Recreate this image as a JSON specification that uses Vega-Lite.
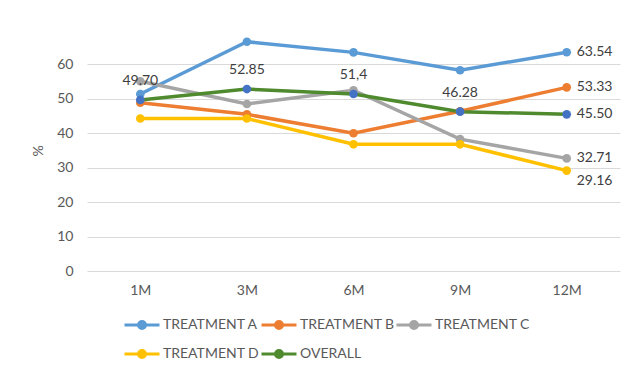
{
  "$schema": "https://vega.github.io/schema/vega-lite/v6.json",
  "width": 533,
  "height": 241,
  "autosize": "none",
  "padding": {"left": 87, "top": 30, "right": 15, "bottom": 96},
  "background": "white",
  "config": {
    "view": {"stroke": null},
    "font": "Lato",
    "axis": {"labelFont": "Lato", "titleFont": "Lato", "labelColor": "#595959", "titleColor": "#595959", "labelFontSize": 14, "titleFontSize": 14, "titleFontWeight": "normal"},
    "legend": {"labelFont": "Lato", "labelColor": "#595959", "labelFontSize": 14}
  },
  "data": {
    "values": [
      {"month": "1M", "series": "TREATMENT A", "value": 51.4, "label": ""},
      {"month": "3M", "series": "TREATMENT A", "value": 66.6, "label": ""},
      {"month": "6M", "series": "TREATMENT A", "value": 63.5, "label": ""},
      {"month": "9M", "series": "TREATMENT A", "value": 58.3, "label": ""},
      {"month": "12M", "series": "TREATMENT A", "value": 63.54, "label": "63.54"},
      {"month": "1M", "series": "TREATMENT B", "value": 48.9, "label": ""},
      {"month": "3M", "series": "TREATMENT B", "value": 45.5, "label": ""},
      {"month": "6M", "series": "TREATMENT B", "value": 40.0, "label": ""},
      {"month": "9M", "series": "TREATMENT B", "value": 46.4, "label": ""},
      {"month": "12M", "series": "TREATMENT B", "value": 53.33, "label": "53.33"},
      {"month": "1M", "series": "TREATMENT C", "value": 55.1, "label": ""},
      {"month": "3M", "series": "TREATMENT C", "value": 48.5, "label": ""},
      {"month": "6M", "series": "TREATMENT C", "value": 52.5, "label": ""},
      {"month": "9M", "series": "TREATMENT C", "value": 38.3, "label": ""},
      {"month": "12M", "series": "TREATMENT C", "value": 32.71, "label": "32.71"},
      {"month": "1M", "series": "TREATMENT D", "value": 44.3, "label": ""},
      {"month": "3M", "series": "TREATMENT D", "value": 44.3, "label": ""},
      {"month": "6M", "series": "TREATMENT D", "value": 36.8, "label": ""},
      {"month": "9M", "series": "TREATMENT D", "value": 36.8, "label": ""},
      {"month": "12M", "series": "TREATMENT D", "value": 29.16, "label": "29.16"},
      {"month": "1M", "series": "OVERALL", "value": 49.7, "label": "49.70"},
      {"month": "3M", "series": "OVERALL", "value": 52.85, "label": "52.85"},
      {"month": "6M", "series": "OVERALL", "value": 51.4, "label": "51,4"},
      {"month": "9M", "series": "OVERALL", "value": 46.28, "label": "46.28"},
      {"month": "12M", "series": "OVERALL", "value": 45.5, "label": "45.50"}
    ]
  },
  "encoding": {
    "x": {
      "field": "month", "type": "ordinal", "sort": ["1M", "3M", "6M", "9M", "12M"],
      "scale": {"type": "point", "padding": 0.5},
      "axis": {"title": null, "labelAngle": 0, "ticks": false, "domain": false, "labelPadding": 12, "grid": false}
    },
    "y": {
      "field": "value", "type": "quantitative",
      "scale": {"domain": [0, 70], "nice": false},
      "axis": {"title": "%", "values": [0, 10, 20, 30, 40, 50, 60], "ticks": false, "domain": false, "labelPadding": 14, "gridColor": "#d9d9d9", "gridWidth": 1, "titlePadding": 11}
    }
  },
  "layer": [
    {
      "mark": {"type": "line", "strokeWidth": 3.5},
      "encoding": {
        "color": {
          "field": "series", "type": "nominal",
          "scale": {"domain": ["TREATMENT A", "TREATMENT B", "TREATMENT C", "TREATMENT D", "OVERALL"], "range": ["#5B9BD5", "#ED7D31", "#A5A5A5", "#FFC000", "#4F8A2F"]},
          "legend": {
            "title": null, "orient": "none", "legendX": 36, "legendY": 276, "direction": "horizontal", "columns": 3, "gridAlign": "none",
            "symbolType": "M-1,0H1M0.2,0A0.2,0.2,0,1,1,-0.2,0A0.2,0.2,0,1,1,0.2,0Z",
            "symbolSize": 1225, "symbolStrokeWidth": 3, "labelOffset": 2, "columnPadding": -5, "rowPadding": 0, "padding": 0
          }
        }
      }
    },
    {
      "mark": {"type": "point", "filled": true, "size": 75, "opacity": 1},
      "encoding": {
        "color": {
          "field": "series", "type": "nominal",
          "condition": {"test": "datum.series === 'OVERALL'", "value": "#4472C4"}
        }
      }
    },
    {
      "transform": [{"filter": "datum.series === 'OVERALL' && datum.month !== '12M'"}],
      "mark": {"type": "text", "dy": -19, "fontSize": 14, "color": "#404040", "font": "Lato"},
      "encoding": {"text": {"field": "label"}}
    },
    {
      "transform": [{"filter": "datum.month === '12M' && datum.series !== 'TREATMENT D'"}],
      "mark": {"type": "text", "dx": 10, "align": "left", "fontSize": 14, "color": "#404040", "font": "Lato"},
      "encoding": {"text": {"field": "label"}}
    },
    {
      "transform": [{"filter": "datum.month === '12M' && datum.series === 'TREATMENT D'"}],
      "mark": {"type": "text", "dx": 10, "dy": 10, "align": "left", "fontSize": 14, "color": "#404040", "font": "Lato"},
      "encoding": {"text": {"field": "label"}}
    }
  ]
}
